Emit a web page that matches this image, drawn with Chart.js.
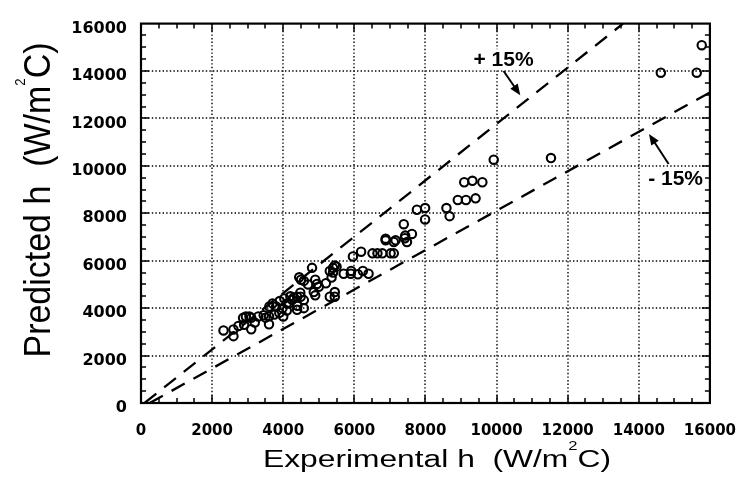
<!DOCTYPE html>
<html><head><meta charset="utf-8">
<script src="https://cdn.jsdelivr.net/npm/chart.js@4/dist/chart.umd.min.js"></script>
<style>html,body{margin:0;padding:0;background:#fff}#wrap{width:755px;height:488px;position:relative}</style>
</head><body><div id="wrap"><canvas id="c" width="755" height="488"></canvas></div>
<script>
// ---- data ----
const expH = [2320,2600,2600,2740,2870,2950,3050,3100,3100,3200,
  3600,3600,3610,3750,3800,3890,3980,4000,4030,4100,
  4160,4250,4300,4390,4390,4480,4490,4500,4580,4580,
  4580,4810,4860,4900,4900,4950,5000,5200,5310,5310,
  5360,5400,5450,5450,5500,5700,5900,5910,5960,6100,
  6190,6240,6400,6510,6650,6790,6880,6880,7020,7110,
  7110,7160,7390,7420,7430,7480,7620,7760,7990,7990,
  8590,8680,8910,9090,9140,9320,9410,9600,9920,11530,
  14620,15630,15770,
  2900,3300,3450,3500,3700,3900,4100,4200,4400,4450,4700,5400,5450];
const predH = [3060,3100,2820,3250,3590,3650,3650,3590,3110,3390,
  3660,3320,4070,3730,4070,3800,4000,3650,4410,3900,
  4200,4350,4450,3930,4480,4650,4480,5200,4340,4000,
  5150,5700,4680,4540,5200,5020,4900,5050,5570,4480,
  5290,5700,4680,4480,5750,5450,5450,5570,6180,5430,
  6380,5570,5450,6310,6310,6310,6860,6930,6310,6310,
  6790,6860,7540,6950,7060,6790,7130,8150,8220,7740,
  8220,7880,8560,9310,8560,9370,8630,9310,10260,10330,
  13930,13930,15090,
  3300,3650,3700,3600,4200,4300,4200,4500,4100,5300,5000,5500,5800];
const upperX = [100, 13560];   // "+15%" band line
const upperY = [0, 16000];
const lowerX = [245, 16000];   // "-15%" band line
const lowerY = [0, 13100];
const xTickVals = [0,2000,4000,6000,8000,10000,12000,14000,16000];
const yTickVals = [0,2000,4000,6000,8000,10000,12000,14000,16000];
const xTitleParts = ['Experimental h  (W/m', '2', 'C)'];
const yTitleParts = ['Predicted h  (W/m', '2', 'C)'];
const plusLabel = '+ 15%';
const minusLabel = '- 15%';

// ---- chart ----
const minorStep = 500;
function arrow(ctx, x1, y1, x2, y2) {
  const ang = Math.atan2(y2 - y1, x2 - x1);
  const hl = 11, hw = 4.5;
  ctx.beginPath(); ctx.moveTo(x1, y1);
  ctx.lineTo(x2 - Math.cos(ang) * hl * 0.8, y2 - Math.sin(ang) * hl * 0.8); ctx.stroke();
  ctx.beginPath(); ctx.moveTo(x2, y2);
  ctx.lineTo(x2 - Math.cos(ang) * hl - Math.sin(ang) * hw, y2 - Math.sin(ang) * hl + Math.cos(ang) * hw);
  ctx.lineTo(x2 - Math.cos(ang) * hl + Math.sin(ang) * hw, y2 - Math.sin(ang) * hl - Math.cos(ang) * hw);
  ctx.closePath(); ctx.fill();
}
function drawParts(ctx, parts, mainFont, supFont, supRise, targetW) {
  ctx.font = mainFont; const w1 = ctx.measureText(parts[0]).width;
  ctx.font = supFont; const w2 = ctx.measureText(parts[1]).width;
  ctx.font = mainFont; const w3 = ctx.measureText(parts[2]).width;
  const w = w1 + w2 + w3;
  const sx = targetW / w;
  ctx.scale(sx, 1);
  let x0 = -w / 2;
  ctx.textAlign = 'left'; ctx.textBaseline = 'alphabetic';
  ctx.font = mainFont; ctx.fillText(parts[0], x0, 0);
  ctx.font = supFont; ctx.fillText(parts[1], x0 + w1, -supRise);
  ctx.font = mainFont; ctx.fillText(parts[2], x0 + w1 + w2, 0);
}
const framePlugin = {
  id: 'frame',
  beforeDatasetsDraw(chart) {
    const { ctx, chartArea: a, scales: { x, y } } = chart;
    ctx.save();
    ctx.strokeStyle = '#000';
    ctx.lineWidth = 1.4;
    ctx.setLineDash([1.4, 2.2]);
    xTickVals.forEach(v => {
      if (v <= x.min || v >= x.max) return;
      const px = Math.round(x.getPixelForValue(v));
      ctx.beginPath(); ctx.moveTo(px, a.top); ctx.lineTo(px, a.bottom); ctx.stroke();
    });
    yTickVals.forEach(v => {
      if (v <= y.min || v >= y.max) return;
      const py = Math.round(y.getPixelForValue(v));
      ctx.beginPath(); ctx.moveTo(a.left, py); ctx.lineTo(a.right, py); ctx.stroke();
    });
    ctx.setLineDash([]);
    ctx.lineWidth = 1.5;
    for (let v = minorStep; v < x.max; v += minorStep) {
      const len = v % 2000 === 0 ? 8 : 5;
      const px = Math.round(x.getPixelForValue(v));
      ctx.beginPath(); ctx.moveTo(px, a.bottom); ctx.lineTo(px, a.bottom - len);
      ctx.moveTo(px, a.top); ctx.lineTo(px, a.top + len); ctx.stroke();
    }
    for (let v = minorStep; v < y.max; v += minorStep) {
      const len = v % 2000 === 0 ? 8 : 5;
      const py = Math.round(y.getPixelForValue(v));
      ctx.beginPath(); ctx.moveTo(a.left, py); ctx.lineTo(a.left + len, py);
      ctx.moveTo(a.right, py); ctx.lineTo(a.right - len, py); ctx.stroke();
    }
    ctx.lineWidth = 2.2;
    ctx.strokeRect(a.left, a.top, a.right - a.left, a.bottom - a.top);
    ctx.restore();
  },
  afterDatasetsDraw(chart) {
    const { ctx, scales: { x, y } } = chart;
    ctx.save();
    ctx.fillStyle = '#000'; ctx.strokeStyle = '#000'; ctx.lineWidth = 2;
    ctx.font = 'bold 21px "Liberation Sans", Arial, sans-serif';
    // "+ 15%" label
    let tx = x.getPixelForValue(9350), ty = y.getPixelForValue(14204);
    let tw = ctx.measureText(plusLabel).width;
    ctx.fillStyle = '#fff'; ctx.fillRect(tx - 4, ty - 17, tw + 8, 21);
    ctx.fillStyle = '#000'; ctx.textAlign = 'left'; ctx.fillText(plusLabel, tx, ty);
    arrow(ctx, x.getPixelForValue(10197), y.getPixelForValue(14000), x.getPixelForValue(10667), y.getPixelForValue(12980));
    // "- 15%" label
    tx = x.getPixelForValue(15807); ty = y.getPixelForValue(9184);
    tw = ctx.measureText(minusLabel).width;
    ctx.fillStyle = '#fff'; ctx.fillRect(tx - tw - 3, ty - 17, tw + 5, 21);
    ctx.fillStyle = '#000'; ctx.textAlign = 'right'; ctx.fillText(minusLabel, tx, ty);
    arrow(ctx, x.getPixelForValue(14839), y.getPixelForValue(10082), x.getPixelForValue(14287), y.getPixelForValue(11347));
    ctx.restore();
  },
  afterDraw(chart) {
    const { ctx } = chart;
    ctx.save();
    ctx.fillStyle = '#000';
    // x title
    ctx.save();
    ctx.translate(437, 467);
    drawParts(ctx, xTitleParts, '23px "Liberation Sans", Arial, sans-serif', '12px "Liberation Sans", Arial, sans-serif', 17, 348);
    ctx.restore();
    // y title
    ctx.save();
    ctx.translate(50, 200);
    ctx.rotate(-Math.PI / 2);
    drawParts(ctx, yTitleParts, '36px "Liberation Sans", Arial, sans-serif', '14px "Liberation Sans", Arial, sans-serif', 25, 315);
    ctx.restore();
    ctx.restore();
  }
};

new Chart(document.getElementById('c'), {
  type: 'scatter',
  data: {
    datasets: [
      {
        data: expH.map((v, i) => ({ x: v, y: predH[i] })),
        pointStyle: 'circle', pointRadius: 4.2, pointHoverRadius: 4.2,
        borderColor: '#000', backgroundColor: 'rgba(0,0,0,0)', borderWidth: 2.1, order: 1
      },
      {
        type: 'line',
        data: upperX.map((v, i) => ({ x: v, y: upperY[i] })),
        borderColor: '#000', borderWidth: 2.3, borderDash: [15, 10],
        pointRadius: 0, fill: false, showLine: true, order: 2
      },
      {
        type: 'line',
        data: lowerX.map((v, i) => ({ x: v, y: lowerY[i] })),
        borderColor: '#000', borderWidth: 2.3, borderDash: [15, 10],
        pointRadius: 0, fill: false, showLine: true, order: 2
      }
    ]
  },
  options: {
    responsive: false, animation: false, devicePixelRatio: 1,
    layout: { padding: { top: 11, right: 35, left: 0, bottom: 0 } },
    plugins: { legend: { display: false }, tooltip: { enabled: false } },
    scales: {
      x: {
        type: 'linear', min: 0, max: 16000,
        afterBuildTicks: s => { s.ticks = xTickVals.map(v => ({ value: v })); },
        afterFit: s => { s.height = 85; },
        ticks: { callback: v => String(v), font: { family: 'DejaVu Sans', weight: 'bold', size: 15 }, color: '#000', padding: 19, maxRotation: 0, autoSkip: false },
        grid: { display: false, drawTicks: false, tickLength: 0 },
        border: { display: false }
      },
      y: {
        type: 'linear', min: 0, max: 16000,
        afterBuildTicks: s => { s.ticks = yTickVals.map(v => ({ value: v })); },
        afterFit: s => { s.width = 141; },
        ticks: { callback: v => String(v), font: { family: 'DejaVu Sans', weight: 'bold', size: 16 }, color: '#000', padding: 14, labelOffset: 5, autoSkip: false },
        grid: { display: false, drawTicks: false, tickLength: 0 },
        border: { display: false }
      }
    }
  },
  plugins: [framePlugin]
});
</script>
</body></html>
